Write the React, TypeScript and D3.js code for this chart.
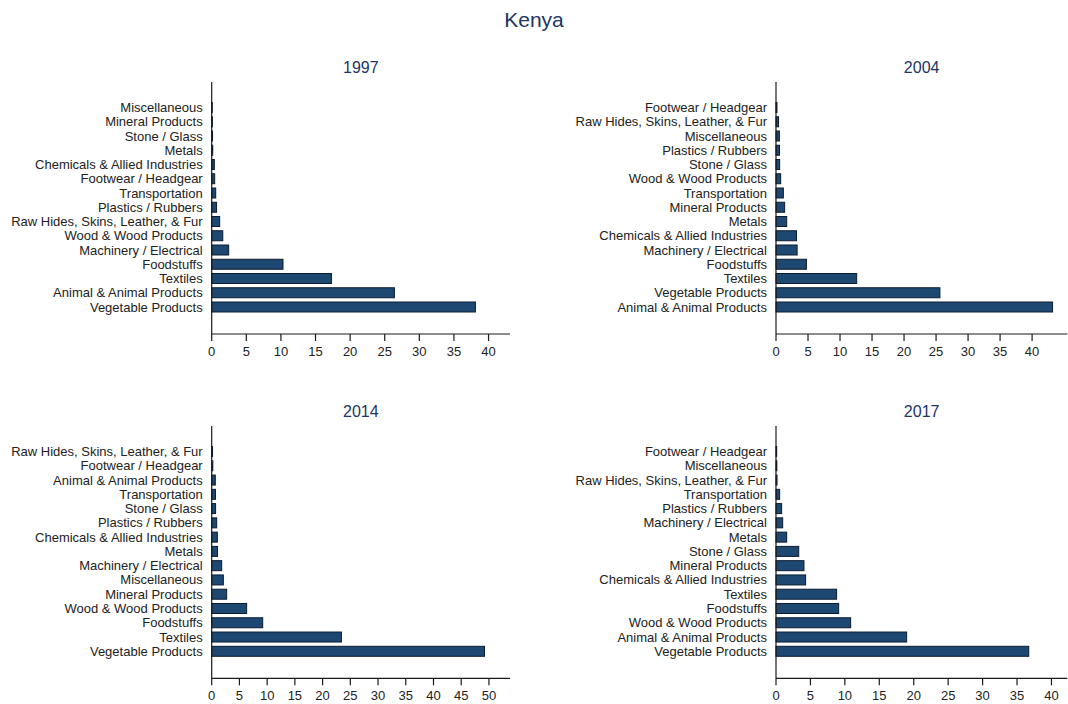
import React from 'react';
import * as d3 from 'd3';

// Kenya export shares (%) by product group, listed top to bottom as drawn
const cats1997 = [
  'Miscellaneous', 'Mineral Products', 'Stone / Glass', 'Metals',
  'Chemicals & Allied Industries', 'Footwear / Headgear', 'Transportation',
  'Plastics / Rubbers', 'Raw Hides, Skins, Leather, & Fur', 'Wood & Wood Products',
  'Machinery / Electrical', 'Foodstuffs', 'Textiles', 'Animal & Animal Products',
  'Vegetable Products',
];
const vals1997 = [0.08, 0.1, 0.12, 0.15, 0.38, 0.43, 0.58, 0.7, 1.15, 1.6, 2.45, 10.3, 17.3, 26.4, 38.1];

const cats2004 = [
  'Footwear / Headgear', 'Raw Hides, Skins, Leather, & Fur', 'Miscellaneous',
  'Plastics / Rubbers', 'Stone / Glass', 'Wood & Wood Products', 'Transportation',
  'Mineral Products', 'Metals', 'Chemicals & Allied Industries',
  'Machinery / Electrical', 'Foodstuffs', 'Textiles', 'Vegetable Products',
  'Animal & Animal Products',
];
const vals2004 = [0.15, 0.4, 0.53, 0.55, 0.57, 0.73, 1.15, 1.35, 1.67, 3.2, 3.3, 4.75, 12.6, 25.6, 43.2];

const cats2014 = [
  'Raw Hides, Skins, Leather, & Fur', 'Footwear / Headgear', 'Animal & Animal Products',
  'Transportation', 'Stone / Glass', 'Plastics / Rubbers',
  'Chemicals & Allied Industries', 'Metals', 'Machinery / Electrical',
  'Miscellaneous', 'Mineral Products', 'Wood & Wood Products', 'Foodstuffs',
  'Textiles', 'Vegetable Products',
];
const vals2014 = [0.15, 0.2, 0.65, 0.68, 0.7, 0.9, 1.02, 1.05, 1.8, 2.1, 2.7, 6.3, 9.2, 23.4, 49.2];

const cats2017 = [
  'Footwear / Headgear', 'Miscellaneous', 'Raw Hides, Skins, Leather, & Fur',
  'Transportation', 'Plastics / Rubbers', 'Machinery / Electrical', 'Metals',
  'Stone / Glass', 'Mineral Products', 'Chemicals & Allied Industries',
  'Textiles', 'Foodstuffs', 'Wood & Wood Products', 'Animal & Animal Products',
  'Vegetable Products',
];
const vals2017 = [0.1, 0.12, 0.15, 0.53, 0.82, 0.97, 1.55, 3.3, 4.06, 4.3, 8.8, 9.1, 10.84, 18.97, 36.7];

const years = ['1997', '2004', '2014', '2017'];
const axisMax = [43.1, 45.5, 53.8, 42.3];
const tickMax = [40, 40, 50, 40];

const panelData = [
  { cats: cats1997, vals: vals1997 },
  { cats: cats2004, vals: vals2004 },
  { cats: cats2014, vals: vals2014 },
  { cats: cats2017, vals: vals2017 },
];

const W = 1068;
const H = 704;
const FONT = '"Liberation Sans", Arial, sans-serif';
const TITLE_COLOR = '#22345f';
const BAR_FILL = '#1c4872';
const BAR_STROKE = '#0c1c30';
const AXIS_COLOR = '#1a1a1a';

// plot frames: [x0, x1, yTop, yBottom]
const frames = [
  [211.7, 510, 82, 334],
  [776, 1067.3, 82, 334],
  [211.7, 510, 426, 678.3],
  [776, 1067.3, 426, 678.3],
];

function Panel({ idx }: { idx: number }) {
  const { cats, vals } = panelData[idx];
  const [x0, x1, yTop, yBot] = frames[idx];
  const x = d3.scaleLinear().domain([0, axisMax[idx]]).range([x0, x1]);
  const y = d3.scalePoint<string>().domain(cats).range([yTop + 25.5, yBot - 27]);
  const ticks = d3.range(0, tickMax[idx] + 1, 5);
  const barH = 10;

  return (
    <g>
      <text x={(x0 + x1) / 2} y={yTop - 9} textAnchor="middle" fontSize={16}
        fill={TITLE_COLOR} fontFamily={FONT}>{years[idx]}</text>
      {cats.map((c, i) => (
        <g key={c}>
          <rect x={x(0)} y={(y(c) as number) - barH / 2}
            width={Math.max(x(vals[i]) - x(0), 0.5)} height={barH}
            fill={BAR_FILL} stroke={BAR_STROKE} strokeWidth={1} />
          <text x={x0 - 9} y={y(c) as number} dy="0.35em" textAnchor="end"
            fontSize={13} fill="#222" fontFamily={FONT}>{c}</text>
        </g>
      ))}
      <line x1={x0} x2={x0} y1={yTop} y2={yBot} stroke={AXIS_COLOR} strokeWidth={1.2} />
      <line x1={x0} x2={x1} y1={yBot} y2={yBot} stroke={AXIS_COLOR} strokeWidth={1.2} />
      {ticks.map(t => (
        <g key={t}>
          <line x1={x(t)} x2={x(t)} y1={yBot} y2={yBot + 7} stroke={AXIS_COLOR} strokeWidth={1.2} />
          <text x={x(t)} y={yBot + 17} dy="0.35em" textAnchor="middle" fontSize={13}
            fill="#222" fontFamily={FONT}>{t}</text>
        </g>
      ))}
    </g>
  );
}

export default function App() {
  return (
    <svg width={W} height={H} style={{ position: 'absolute', left: 0, top: 0, background: '#fff' }}>
      <rect width={W} height={H} fill="#fff" />
      <text x={W / 2} y={27} textAnchor="middle" fontSize={21} fill={TITLE_COLOR}
        fontFamily={FONT}>Kenya</text>
      {years.map((_, i) => <Panel key={i} idx={i} />)}
    </svg>
  );
}
